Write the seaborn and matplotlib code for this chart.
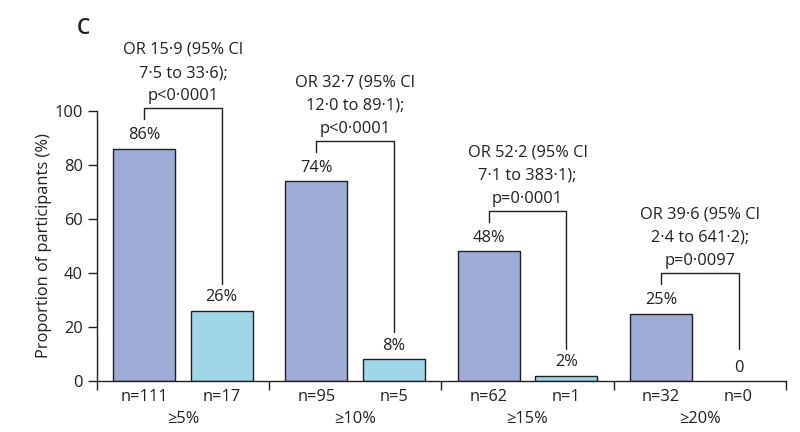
import pandas as pd
import seaborn as sns
import matplotlib.pyplot as plt
import matplotlib.transforms as mtransforms

# datos
umbrales = ["≥5%", "≥10%", "≥15%", "≥20%"]
grupos = ["grupo A", "grupo B"]
valores_a = [86, 74, 48, 25]
valores_b = [26, 8, 2, 0]
n_a = [111, 95, 62, 32]
n_b = [17, 5, 1, 0]
textos_or = [
    "OR 15·9 (95% CI\n7·5 to 33·6);\np<0·0001",
    "OR 32·7 (95% CI\n12·0 to 89·1);\np<0·0001",
    "OR 52·2 (95% CI\n7·1 to 383·1);\np=0·0001",
    "OR 39·6 (95% CI\n2·4 to 641·2);\np=0·0097",
]

df = pd.DataFrame({
    "umbral": umbrales * 2,
    "grupo": [grupos[0]] * 4 + [grupos[1]] * 4,
    "valor": valores_a + valores_b,
})

sns.set_style("ticks")
plt.rcParams["font.family"] = ["Open Sans", "DejaVu Sans"]
tinta = "#231F20"
plt.rcParams["text.color"] = tinta
plt.rcParams["axes.edgecolor"] = tinta
plt.rcParams["xtick.color"] = tinta
plt.rcParams["ytick.color"] = tinta
plt.rcParams["axes.labelcolor"] = tinta
fs = 11.8

fig = plt.figure(figsize=(8, 4.32), dpi=100)
ax = fig.add_axes([0.121, 0.118, 0.8615, 0.625])

sns.barplot(data=df, x="umbral", y="valor", hue="grupo", order=umbrales,
            hue_order=grupos, palette=["#9FADD6", "#A0D6E8"], saturation=1,
            width=0.9, gap=0.2, edgecolor=tinta, linewidth=1.0, legend=False, ax=ax)

ax.set_xlim(-0.5, 3.5)
ax.set_ylim(0, 100)
ax.set_yticks([0, 20, 40, 60, 80, 100])
ax.set_xticks([-0.5, 0.5, 1.5, 2.5, 3.5])
ax.set_xticklabels([])
ax.tick_params(axis="both", direction="out", length=6.5, width=1.0, labelsize=fs)
ax.set_xlabel("")
ax.set_ylabel("Proportion of participants (%)", fontsize=fs, labelpad=2)
sns.despine(ax=ax)
ax.spines["left"].set_bounds(0, 100)
ax.spines["left"].set_linewidth(1.0)
ax.spines["bottom"].set_linewidth(1.0)

barras_a = ax.containers[0]
barras_b = ax.containers[1]
trans = mtransforms.blended_transform_factory(ax.transData, ax.transAxes)

for i in range(len(umbrales)):
    pa = barras_a[i]
    pb = barras_b[i]
    xa = pa.get_x() + pa.get_width() / 2
    xb = pb.get_x() + pb.get_width() / 2
    va, vb = valores_a[i], valores_b[i]
    if vb == 0:
        pb.set_linewidth(0)
    # etiquetas de porcentaje
    ax.text(xa, va + 2, f"{va}%", ha="center", va="bottom", fontsize=fs)
    ax.text(xb, vb + 2, f"{vb}%" if vb > 0 else "0", ha="center", va="bottom", fontsize=fs)
    # corchete
    top = va + 15
    ax.plot([xa, xa, xb, xb], [va + 11, top, top, max(vb, 2) + 10],
            color=tinta, lw=1.0, clip_on=False)
    ax.text((xa + xb) / 2, top + 1.5, textos_or[i], ha="center", va="bottom",
            fontsize=fs, linespacing=1.6, multialignment="center", clip_on=False)
    # n y umbral debajo
    ax.text(xa, -0.03, f"n={n_a[i]}", ha="center", va="top", fontsize=fs, transform=trans)
    ax.text(xb, -0.03, f"n={n_b[i]}", ha="center", va="top", fontsize=fs, transform=trans)
    ax.text(i, -0.11, umbrales[i], ha="center", va="top", fontsize=fs, transform=trans)

fig.text(0.096, 0.935, "C", fontsize=15, fontweight="semibold", ha="left", va="center")

plt.savefig("out.png", dpi=100)
